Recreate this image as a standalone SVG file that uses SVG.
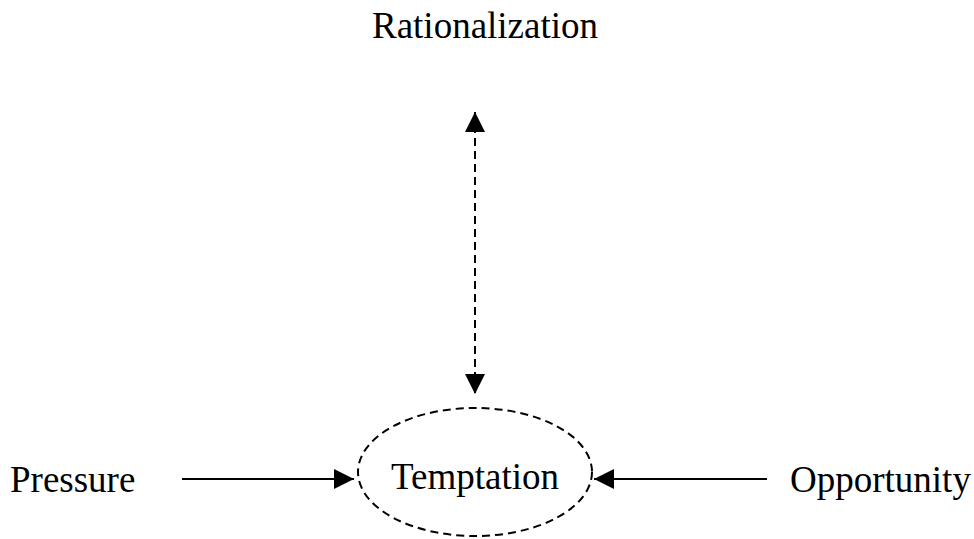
<svg xmlns="http://www.w3.org/2000/svg" width="974" height="539" viewBox="0 0 974 539">
<style>
text{font-family:"Liberation Serif","Times New Roman",serif;font-size:37px;fill:#000}
.ln{stroke:#000;stroke-width:2;fill:none}
.dash{stroke-dasharray:8,5}
</style>
<defs>
<marker id="ah" viewBox="0 0 20 20" refX="20" refY="10" markerWidth="20" markerHeight="20" markerUnits="userSpaceOnUse" orient="auto-start-reverse">
<path d="M0,0 L20,10 L0,20 Z" fill="#000"/>
</marker>
</defs>
<g id="rationalization"><text x="485" y="38" text-anchor="middle">Rationalization</text></g>
<g id="temptation">
<ellipse cx="475" cy="472" rx="117" ry="64" class="ln dash"/>
<text x="475" y="489" text-anchor="middle">Temptation</text>
</g>
<g id="pressure"><text x="10" y="492">Pressure</text></g>
<g id="opportunity"><text x="790" y="492">Opportunity</text></g>
<g id="connectors">
<line x1="475" y1="112" x2="475" y2="394" class="ln dash" marker-start="url(#ah)" marker-end="url(#ah)"/>
<line x1="182" y1="479" x2="354" y2="479" class="ln" marker-end="url(#ah)"/>
<line x1="767" y1="479" x2="594" y2="479" class="ln" marker-end="url(#ah)"/>
</g>
</svg>
